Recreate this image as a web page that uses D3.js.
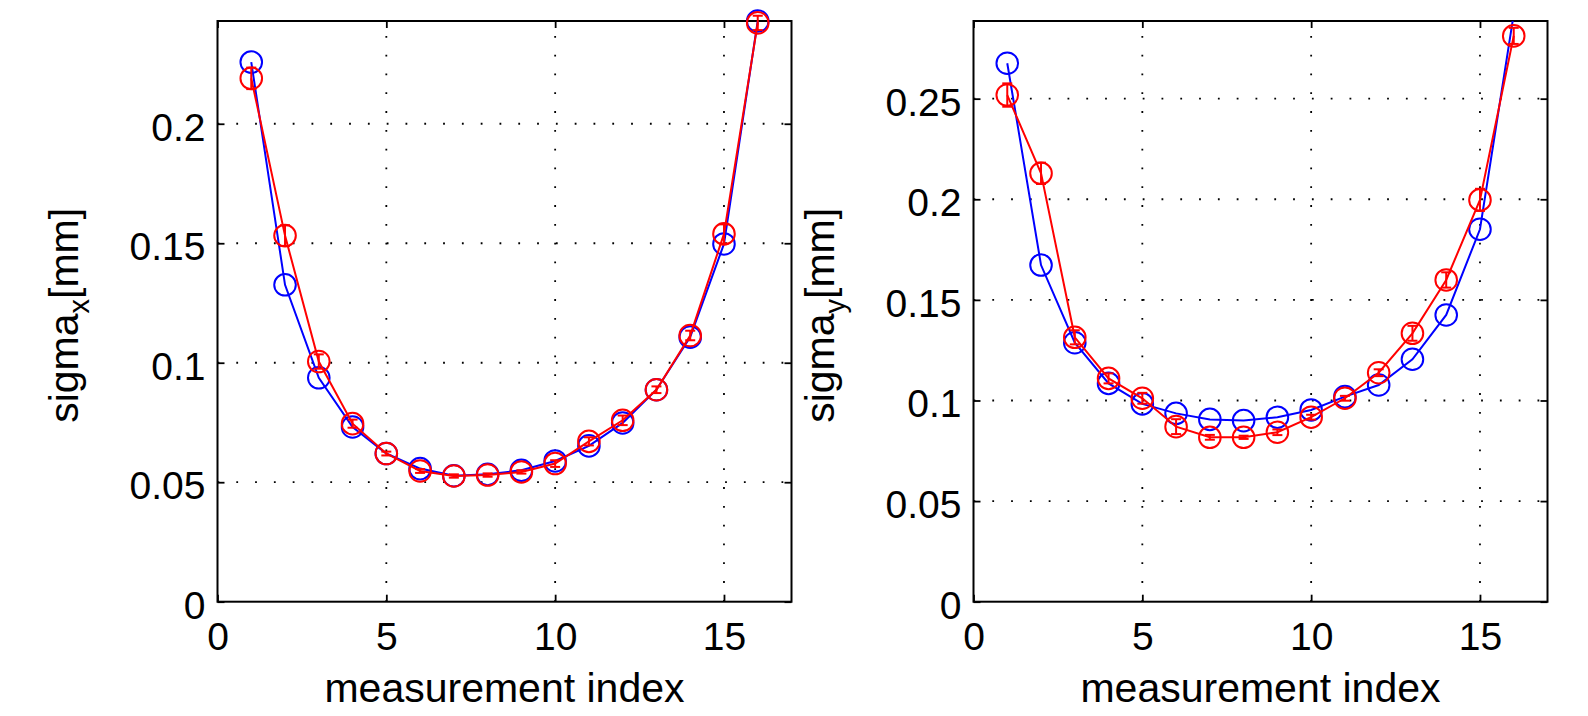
<!DOCTYPE html>
<html>
<head>
<meta charset="utf-8">
<script src="https://cdn.jsdelivr.net/npm/d3@7"></script>
<style>
  html, body { margin: 0; padding: 0; background: #fff; }
  svg { display: block; }
  text { font-family: "Liberation Sans", Arial, Helvetica, sans-serif; fill: #000; }
</style>
</head>
<body>
<svg id="chart" width="1588" height="716"></svg>
<script>
// ---------------- data ----------------
const measurementIndex = [1, 2, 3, 4, 5, 6, 7, 8, 9, 10, 11, 12, 13, 14, 15, 16];

const sigmaXBlue = [0.2258, 0.1326, 0.0937, 0.0731, 0.0620, 0.0557, 0.0527, 0.0533,
                    0.0550, 0.0589, 0.0652, 0.0748, 0.0887, 0.1107, 0.1497, 0.2430];
const sigmaXRed  = [0.2190, 0.1532, 0.1005, 0.0745, 0.0620, 0.0547, 0.0526, 0.0530,
                    0.0543, 0.0578, 0.0671, 0.0759, 0.0887, 0.1114, 0.1539, 0.2422];
const sigmaXErr  = [0.0045, 0.0043, 0.0030, 0.0017, 0.0008, 0.0008, 0.0007, 0.0007,
                    0.0007, 0.0014, 0.0017, 0.0020, 0.0014, 0.0020, 0.0040, 0.0030];

const sigmaYBlue = [0.2676, 0.1673, 0.1287, 0.1085, 0.0983, 0.0936, 0.0906, 0.0900,
                    0.0917, 0.0953, 0.1019, 0.1077, 0.1205, 0.1425, 0.1851, 0.2920];
const sigmaYRed  = [0.2518, 0.2129, 0.1314, 0.1110, 0.1011, 0.0870, 0.0817, 0.0817,
                    0.0842, 0.0917, 0.1011, 0.1138, 0.1334, 0.1599, 0.1997, 0.2812];
const sigmaYErr  = [0.0058, 0.0053, 0.0035, 0.0025, 0.0027, 0.0037, 0.0012, 0.0008,
                    0.0014, 0.0012, 0.0012, 0.0017, 0.0037, 0.0038, 0.0055, 0.0040];

const xDomain = [0, 17];
const xTicks = [0, 5, 10, 15];
const xTickLabels = ["0", "5", "10", "15"];

const yDomainX = [0, 0.2430];
const yTicksX = [0, 0.05, 0.1, 0.15, 0.2];
const yTickLabelsX = ["0", "0.05", "0.1", "0.15", "0.2"];

const yDomainY = [0, 0.2886];
const yTicksY = [0, 0.05, 0.1, 0.15, 0.2, 0.25];
const yTickLabelsY = ["0", "0.05", "0.1", "0.15", "0.2", "0.25"];

const xLabelText = "measurement index";
const panels = [
  { left: 217.5, yDomain: yDomainX, yTicks: yTicksX, yTickLabels: yTickLabelsX,
    blue: sigmaXBlue, red: sigmaXRed, err: sigmaXErr, sub: "x" },
  { left: 973.5, yDomain: yDomainY, yTicks: yTicksY, yTickLabels: yTickLabelsY,
    blue: sigmaYBlue, red: sigmaYRed, err: sigmaYErr, sub: "y" }
];

// ---------------- layout ----------------
const plotW = 574, plotTop = 21, plotBottom = 601.7, plotH = plotBottom - plotTop;
const tickFont = 39, labelFont = 41;
const BLUE = "#0000ff", RED = "#ff0000";

const svg = d3.select("#chart");

panels.forEach((p, pi) => {
  const g = svg.append("g").attr("transform", `translate(${p.left},${plotTop})`);
  const x = d3.scaleLinear().domain(xDomain).range([0, plotW]);
  const y = d3.scaleLinear().domain(p.yDomain).range([plotH, 0]);

  const clipId = "clip" + pi;
  g.append("clipPath").attr("id", clipId)
    .append("rect").attr("x", 0).attr("y", 0).attr("width", plotW).attr("height", plotH);

  // grid
  const grid = g.append("g").attr("stroke", "#000").attr("stroke-width", 1.8)
    .attr("stroke-dasharray", "1.8,17");
  grid.selectAll("line.v").data(xTicks.filter(t => t > xDomain[0] && t < xDomain[1]))
    .enter().append("line").attr("class", "v")
    .attr("x1", d => x(d)).attr("x2", d => x(d))
    .attr("y1", plotH).attr("y2", 0);
  grid.selectAll("line.h").data(p.yTicks.filter(t => t > p.yDomain[0] && t < p.yDomain[1]))
    .enter().append("line").attr("class", "h")
    .attr("x1", 0).attr("x2", plotW)
    .attr("y1", d => y(d)).attr("y2", d => y(d));

  // axes
  const styleAxis = (sel) => {
    sel.select(".domain").remove();
    sel.selectAll(".tick line").attr("stroke", "#000").attr("stroke-width", 1.8);
    sel.selectAll(".tick text").attr("font-size", tickFont).attr("fill", "#000")
      .attr("font-family", "Liberation Sans, Arial, sans-serif");
  };
  const xLabelMap = new Map(xTicks.map((t, i) => [t, xTickLabels[i]]));
  const yLabelMap = new Map(p.yTicks.map((t, i) => [t, p.yTickLabels[i]]));

  g.append("g").attr("transform", `translate(0,${plotH})`)
    .call(d3.axisBottom(x).tickValues(xTicks).tickFormat(d => xLabelMap.get(d))
      .tickSizeInner(-7).tickSizeOuter(0).tickPadding(21))
    .call(styleAxis);

  g.append("g")
    .call(d3.axisTop(x).tickValues(xTicks).tickFormat("")
      .tickSizeInner(-7).tickSizeOuter(0))
    .call(styleAxis);

  const yAx = g.append("g")
    .call(d3.axisLeft(y).tickValues(p.yTicks).tickFormat(d => yLabelMap.get(d))
      .tickSizeInner(-7).tickSizeOuter(0).tickPadding(12))
    .call(styleAxis);
  yAx.selectAll(".tick text").attr("dy", "0.42em");

  g.append("g").attr("transform", `translate(${plotW},0)`)
    .call(d3.axisRight(y).tickValues(p.yTicks).tickFormat("")
      .tickSizeInner(-7).tickSizeOuter(0))
    .call(styleAxis);

  // box
  g.append("rect").attr("x", 0).attr("y", 0).attr("width", plotW).attr("height", plotH)
    .attr("fill", "none").attr("stroke", "#000").attr("stroke-width", 2);

  // series
  const line = d3.line().x(d => x(d[0])).y(d => y(d[1]));
  const inRange = v => v >= p.yDomain[0] && v <= p.yDomain[1] + 1e-9;

  // blue
  const blueData = measurementIndex.map((m, i) => [m, p.blue[i]]);
  g.append("path").datum(blueData).attr("d", line)
    .attr("fill", "none").attr("stroke", BLUE).attr("stroke-width", 2)
    .attr("clip-path", `url(#${clipId})`);
  g.selectAll("circle.blue").data(blueData.filter(d => inRange(d[1]))).enter()
    .append("circle").attr("class", "blue")
    .attr("cx", d => x(d[0])).attr("cy", d => y(d[1])).attr("r", 10.8)
    .attr("fill", "none").attr("stroke", BLUE).attr("stroke-width", 2);

  // red
  const redData = measurementIndex.map((m, i) => [m, p.red[i], p.err[i]]);
  g.append("path").datum(redData).attr("d", line)
    .attr("fill", "none").attr("stroke", RED).attr("stroke-width", 2)
    .attr("clip-path", `url(#${clipId})`);
  const eb = g.selectAll("g.eb").data(redData).enter().append("g").attr("class", "eb")
    .attr("stroke", RED).attr("stroke-width", 2).attr("fill", "none");
  const capW = 5;
  eb.append("line")
    .attr("x1", d => x(d[0])).attr("x2", d => x(d[0]))
    .attr("y1", d => y(d[1] - d[2])).attr("y2", d => y(d[1] + d[2]));
  eb.append("line")
    .attr("x1", d => x(d[0]) - capW).attr("x2", d => x(d[0]) + capW)
    .attr("y1", d => y(d[1] - d[2])).attr("y2", d => y(d[1] - d[2]));
  eb.append("line")
    .attr("x1", d => x(d[0]) - capW).attr("x2", d => x(d[0]) + capW)
    .attr("y1", d => y(d[1] + d[2])).attr("y2", d => y(d[1] + d[2]));
  g.selectAll("circle.red").data(redData.filter(d => inRange(d[1]))).enter()
    .append("circle").attr("class", "red")
    .attr("cx", d => x(d[0])).attr("cy", d => y(d[1])).attr("r", 10.8)
    .attr("fill", "none").attr("stroke", RED).attr("stroke-width", 2);

  // x label
  g.append("text").attr("x", plotW / 2).attr("y", 701.7 - plotTop)
    .attr("text-anchor", "middle").attr("font-size", labelFont).text(xLabelText);

  // y label
  const yl = g.append("text")
    .attr("transform", `translate(${-139.5},${plotH / 2 + 4}) rotate(-90)`)
    .attr("text-anchor", "middle").attr("font-size", labelFont);
  yl.append("tspan").text("sigma");
  yl.append("tspan").attr("font-size", 29).attr("dy", 11).text(p.sub);
  yl.append("tspan").attr("dy", -11).text("[mm]");
});
</script>
</body>
</html>
